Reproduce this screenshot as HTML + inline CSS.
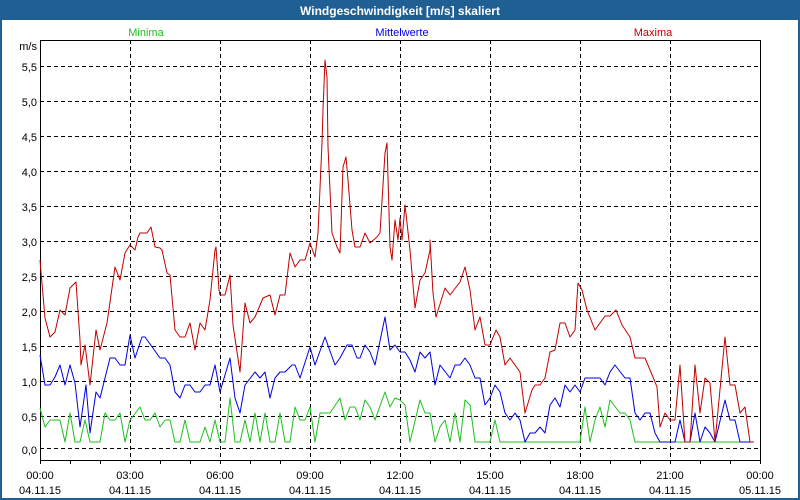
<!DOCTYPE html>
<html><head><meta charset="utf-8"><style>
html,body{margin:0;padding:0;background:#fff;}
svg{display:block;font-family:"Liberation Sans",sans-serif;}
</style></head><body>
<svg width="800" height="500" viewBox="0 0 800 500" xmlns="http://www.w3.org/2000/svg">
<rect x="0" y="0" width="800" height="500" fill="#fff"/>
<rect x="1" y="1" width="798" height="498" fill="none" stroke="#1f5f93" stroke-width="2"/>
<rect x="0" y="0" width="800" height="20" fill="#1f5f93"/>
<text x="400" y="15" text-anchor="middle" fill="#fff" font-size="12" font-weight="bold">Windgeschwindigkeit [m/s] skaliert</text>
<text x="146" y="36" text-anchor="middle" fill="#1fbf1f" font-size="11">Minima</text>
<text x="402" y="36" text-anchor="middle" fill="#0000e0" font-size="11">Mittelwerte</text>
<text x="653" y="36" text-anchor="middle" fill="#c00000" font-size="11">Maxima</text>
<g stroke="#000" stroke-width="1" stroke-dasharray="4,3" fill="none">
<path d="M130.5 40V460M220.5 40V460M310.5 40V460M400.5 40V460M490.5 40V460M580.5 40V460M670.5 40V460"/>
<path d="M40 66.5H760M40 101.5H760M40 136.5H760M40 171.5H760M40 206.5H760M40 241.5H760M40 276.5H760M40 311.5H760M40 346.5H760M40 381.5H760M40 416.5H760M40 448.5H760"/>
</g>
<rect x="40.5" y="40.5" width="720" height="420" fill="none" stroke="#000"/>
<g stroke="#000"><path d="M70.5 460V464M100.5 460V464M130.5 460V464M160.5 460V464M190.5 460V464M220.5 460V464M250.5 460V464M280.5 460V464M310.5 460V464M340.5 460V464M370.5 460V464M400.5 460V464M430.5 460V464M460.5 460V464M490.5 460V464M520.5 460V464M550.5 460V464M580.5 460V464M610.5 460V464M640.5 460V464M670.5 460V464M700.5 460V464M730.5 460V464M40.5 460V464M760.5 460V464"/></g>
<g font-size="11" fill="#000" text-anchor="end">
<text x="37" y="50">m/s</text>
<text x="37" y="71">5,5</text><text x="37" y="106">5,0</text><text x="37" y="141">4,5</text>
<text x="37" y="176">4,0</text><text x="37" y="211">3,5</text><text x="37" y="246">3,0</text>
<text x="37" y="281">2,5</text><text x="37" y="316">2,0</text><text x="37" y="351">1,5</text>
<text x="37" y="386">1,0</text><text x="37" y="421">0,5</text><text x="37" y="454">0,0</text>
</g>
<g font-size="11" fill="#000" text-anchor="middle">
<text x="40" y="479">00:00</text><text x="40" y="494">04.11.15</text>
<text x="130" y="479">03:00</text><text x="130" y="494">04.11.15</text>
<text x="220" y="479">06:00</text><text x="220" y="494">04.11.15</text>
<text x="310" y="479">09:00</text><text x="310" y="494">04.11.15</text>
<text x="400" y="479">12:00</text><text x="400" y="494">04.11.15</text>
<text x="490" y="479">15:00</text><text x="490" y="494">04.11.15</text>
<text x="580" y="479">18:00</text><text x="580" y="494">04.11.15</text>
<text x="670" y="479">21:00</text><text x="670" y="494">04.11.15</text>
<text x="760" y="479">00:00</text><text x="760" y="494">05.11.15</text>
</g>
<g fill="none" stroke-width="1" stroke-linejoin="round">
<polyline stroke="#1fbf1f" points="40,408 45,427 50,420 60,420 65,442 70,413 75,442 80,442 85,420 90,442 100,442 105,413 110,420 115,420 120,413 125,442 130,420 140,407 145,420 150,420 155,413 160,427 165,420 170,420 175,442 180,442 185,420 190,442 200,442 205,427 210,442 215,420 220,442 225,442 230,398 235,442 240,442 245,420 250,442 255,413 260,442 265,413 270,442 275,442 280,413 285,442 290,442 295,407 300,420 305,420 310,407 315,442 320,413 330,413 340,398 345,420 350,407 355,407 360,420 365,400 370,407 375,420 385,392 390,407 395,398 400,400 405,405 410,442 420,400 425,413 430,413 435,442 440,427 445,420 450,442 455,413 460,442 465,400 470,405 475,442 490,442 495,420 500,442 580,442 585,407 590,442 595,420 600,407 605,427 610,400 620,413 625,413 630,420 635,442 750,442"/>
<polyline stroke="#0000e0" points="40,355 45,385 50,385 55,377 60,365 65,385 70,365 75,383 80,427 86,385 90,433 96,392 100,398 105,378 110,358 115,358 120,365 125,365 130,335 135,358 142,337 145,337 160,358 165,358 170,365 175,392 180,398 185,385 190,385 195,392 200,392 205,385 210,385 215,365 220,392 230,358 235,398 240,413 245,385 255,372 260,378 265,372 270,398 275,378 280,372 285,372 292,365 295,365 300,378 310,347 315,365 325,337 335,365 340,358 347,345 352,345 357,358 360,358 365,345 370,352 375,365 385,317 390,350 395,345 400,352 405,352 410,360 415,372 420,352 425,358 430,352 435,385 440,365 450,378 455,365 460,365 465,358 470,365 475,378 480,378 485,405 490,398 495,385 500,392 505,413 510,420 515,413 520,420 525,442 530,433 535,433 540,427 545,433 550,405 555,398 560,407 565,385 570,392 575,385 580,392 585,378 600,378 605,385 610,372 615,365 625,378 630,378 635,413 640,420 645,413 650,413 655,433 660,442 675,442 680,420 685,442 690,442 695,413 700,442 705,427 710,433 715,442 725,400 730,420 735,420 740,442 750,442"/>
<polyline stroke="#c00000" points="40,260 41,272 45,318 50,337 55,332 60,310 65,315 70,288 76,282 80,340 81,365 85,345 90,385 96,330 100,350 107,323 115,267 120,280 125,253 128,248 130,245 135,250 138,237 140,233 147,233 151,227 155,247 160,248 162,250 167,273 170,275 175,330 180,337 185,337 190,323 195,350 200,323 205,330 210,300 215,250 216,247 219,290 220,295 225,295 230,275 233,325 240,372 245,303 250,323 255,317 263,298 270,295 275,315 280,295 285,295 290,253 295,267 300,260 305,260 310,243 315,257 318,233 322,143 323,110 325,60 327,77 328,147 332,233 337,247 340,253 343,167 346,157 348,180 352,230 355,247 360,247 365,233 370,243 377,237 380,233 385,153 387,143 388,177 390,247 392,260 395,220 398,240 400,218 402,240 405,205 410,250 415,308 420,280 425,273 430,250 430,240 433,293 436,317 445,288 450,295 460,282 465,267 470,290 475,330 480,317 485,345 490,345 496,330 500,337 505,365 510,358 520,372 525,413 532,390 535,385 540,385 545,378 550,352 555,350 560,323 565,323 570,337 575,330 578,283 582,290 587,310 595,330 605,316 610,316 616,310 622,325 630,337 635,358 645,358 653,377 657,387 660,427 665,413 670,420 675,420 680,365 685,442 690,442 695,365 700,413 705,378 710,383 715,442 725,337 730,385 735,385 740,413 745,407 750,442 754,442"/>
</g>
</svg>
</body></html>
